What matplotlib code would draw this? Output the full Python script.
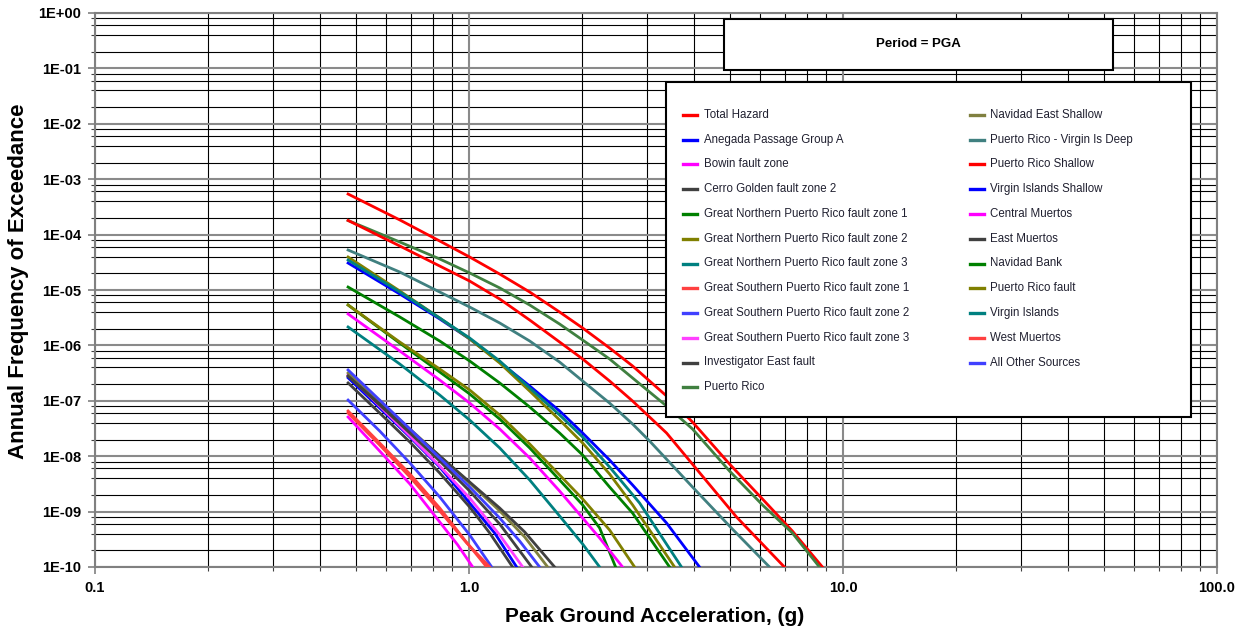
import matplotlib
matplotlib.use("Agg")
import matplotlib.pyplot as plt
from matplotlib.lines import Line2D
from matplotlib.patches import Rectangle
from matplotlib.ticker import FixedLocator, FixedFormatter, NullFormatter

plt.rcParams['font.family'] = ['Liberation Sans', 'DejaVu Sans']

# ---------------------------------------------------------------- data
# Hazard curves: peak ground acceleration (g) vs annual frequency of exceedance
pga_main = [0.475, 0.653, 0.835, 1.004, 1.208, 1.453, 1.747, 2.013, 2.376, 2.738]
pga_low = [0.475, 0.577, 0.695, 0.835, 1.004]

total_hazard_pga = pga_main + [3.375, 3.959, 4.972, 6.09, 7.32, 8.81]
total_hazard_afe = [5.4e-4, 1.84e-4, 7.66e-5, 3.94e-5, 1.94e-5, 9.2e-6, 4.0e-6, 2.06e-6,
                    8.98e-7, 4.25e-7, 1.22e-7, 4.14e-8, 7.23e-9, 1.69e-9, 4.47e-10, 1.0e-10]

puerto_rico_pga = pga_main + [3.375, 3.959, 4.972, 6.09, 7.32, 8.65]
puerto_rico_afe = [1.8e-4, 7.35e-5, 3.63e-5, 2.03e-5, 1.09e-5, 5.36e-6, 2.43e-6, 1.25e-6,
                   5.69e-7, 2.58e-7, 8.05e-8, 3.1e-8, 5.4e-9, 1.32e-9, 4.11e-10, 1.0e-10]

pr_shallow_pga = pga_main + [3.375, 4.058, 5.19, 6.97]
pr_shallow_afe = [1.8e-4, 6.23e-5, 2.71e-5, 1.45e-5, 6.88e-6, 2.87e-6, 1.15e-6, 5.69e-7,
                  2.28e-7, 9.9e-8, 2.62e-8, 5.87e-9, 8.0e-10, 1.0e-10]

pr_vi_deep_pga = pga_main + [3.04, 3.959, 5.06, 6.36]
pr_vi_deep_afe = [5.27e-5, 2.11e-5, 9.2e-6, 4.93e-6, 2.54e-6, 1.2e-6, 5.0e-7, 2.28e-7,
                  9.1e-8, 3.81e-8, 1.88e-8, 2.78e-9, 4.85e-10, 1.0e-10]

vi_shallow_pga = pga_main + [3.375, 4.134]
vi_shallow_afe = [3.07e-5, 8.47e-6, 3.0e-6, 1.31e-6, 5.0e-7, 1.85e-7, 6.55e-8, 2.62e-8,
                  8.54e-9, 3.02e-9, 6.22e-10, 1.0e-10]

pr_fault_pga = pga_main + [3.545]
pr_fault_afe = [3.94e-5, 9.6e-6, 3.12e-6, 1.31e-6, 4.81e-7, 1.5e-7, 4.5e-8, 1.73e-8,
                4.77e-9, 1.32e-9, 1.0e-10]

virgin_islands_pga = pga_main[:9] + [2.858, 3.70]
virgin_islands_afe = [3.48e-5, 9.2e-6, 3.12e-6, 1.36e-6, 5.23e-7, 1.7e-7, 5.54e-8, 2.22e-8,
                      6.38e-9, 1.43e-9, 1.0e-10]

navidad_bank_pga = pga_main + [3.438]
navidad_bank_afe = [1.13e-5, 3.26e-6, 1.2e-6, 5.23e-7, 2.1e-7, 7.73e-8, 2.62e-8, 1.05e-8,
                    2.78e-9, 9.4e-10, 1.0e-10]

gnpr1_pga = pga_main[:8] + [2.235, 2.466]
gnpr1_afe = [5.36e-6, 1.1e-6, 3.31e-7, 1.33e-7, 4.69e-8, 1.41e-8, 3.72e-9, 1.32e-9,
             5.06e-10, 1.0e-10]

gnpr2_pga = pga_main[:9] + [2.772]
gnpr2_afe = [5.36e-6, 1.15e-6, 3.75e-7, 1.57e-7, 5.54e-8, 1.66e-8, 4.58e-9, 1.69e-9,
             4.66e-10, 1.0e-10]

gnpr3_pga = pga_main[:8] + [2.235]
gnpr3_afe = [2.15e-6, 4.61e-7, 1.27e-7, 4.5e-8, 1.41e-8, 3.72e-9, 8.33e-10, 2.6e-10, 1.0e-10]

central_muertos_pga = pga_main[:8] + [2.235, 2.574]
central_muertos_afe = [3.69e-6, 7.92e-7, 2.37e-7, 9.12e-8, 3.1e-8, 9.3e-9, 2.35e-9, 7.66e-10,
                       3.34e-10, 1.0e-10]

all_other_pga = pga_low + [1.208, 1.366, 1.545]
all_other_afe = [3.6e-7, 1.03e-7, 3.1e-8, 9.3e-9, 2.78e-9, 7.66e-10, 2.94e-10, 1.0e-10]

anegada_pga = pga_low + [1.171, 1.341]
anegada_afe = [2.6e-7, 7.41e-8, 2.22e-8, 6.38e-9, 1.43e-9, 4.11e-10, 1.0e-10]

cerro_golden_pga = pga_low + [1.136, 1.308]
cerro_golden_afe = [2.1e-7, 6.02e-8, 1.8e-8, 4.97e-9, 1.21e-9, 4.11e-10, 1.0e-10]

investigator_pga = pga_low + [1.208, 1.471]
investigator_afe = [2.8e-7, 8.4e-8, 2.62e-8, 8.2e-9, 2.35e-9, 5.97e-10, 1.0e-10]

east_muertos_pga = pga_low + [1.208, 1.409, 1.694]
east_muertos_afe = [2.8e-7, 8.75e-8, 2.97e-8, 1.01e-8, 3.42e-9, 1.16e-9, 4.29e-10, 1.0e-10]

navidad_east_pga = pga_low + [1.208, 1.409, 1.623]
navidad_east_afe = [3.18e-7, 9.5e-8, 3.1e-8, 1.01e-8, 3.28e-9, 1.03e-9, 3.48e-10, 1.0e-10]

gspr3_pga = pga_low + [1.208, 1.392]
gspr3_afe = [2.92e-7, 8.05e-8, 2.32e-8, 6.66e-9, 1.76e-9, 3.79e-10, 1.0e-10]

gspr2_pga = pga_low + [1.150]
gspr2_afe = [1.03e-7, 2.85e-8, 7.53e-9, 1.84e-9, 3.79e-10, 1.0e-10]

gspr1_pga = pga_low[:4] + [0.974, 1.115]
gspr1_afe = [6.55e-8, 1.73e-8, 4.77e-9, 1.16e-9, 3.07e-10, 1.0e-10]

west_muertos_pga = pga_low[:4] + [0.986, 1.136]
west_muertos_afe = [6.02e-8, 1.59e-8, 4.21e-9, 1.03e-9, 2.71e-10, 1.0e-10]

bowin_pga = pga_low[:4] + [0.933, 1.023]
bowin_afe = [5.1e-8, 1.24e-8, 3.15e-9, 6.49e-10, 2.5e-10, 1.0e-10]

series_labels = [
    "Total Hazard", "Anegada Passage Group A", "Bowin fault zone",
    "Cerro Golden fault zone 2", "Great Northern Puerto Rico fault zone 1",
    "Great Northern Puerto Rico fault zone 2", "Great Northern Puerto Rico fault zone 3",
    "Great Southern Puerto Rico fault zone 1", "Great Southern Puerto Rico fault zone 2",
    "Great Southern Puerto Rico fault zone 3", "Investigator East fault", "Puerto Rico",
    "Navidad East Shallow", "Puerto Rico - Virgin Is Deep", "Puerto Rico Shallow",
    "Virgin Islands Shallow", "Central Muertos", "East Muertos", "Navidad Bank",
    "Puerto Rico fault", "Virgin Islands", "West Muertos", "All Other Sources",
]
series_colors = [
    "#FF0000", "#0000FF", "#FF00FF", "#404040", "#008000", "#808000", "#008080",
    "#FF4040", "#4040FF", "#FF40FF", "#404040", "#408040",
    "#808040", "#408080", "#FF0000", "#0000FF", "#FF00FF", "#404040", "#008000",
    "#808000", "#008080", "#FF4040", "#4040FF",
]
series_data = [
    (total_hazard_pga, total_hazard_afe), (anegada_pga, anegada_afe),
    (bowin_pga, bowin_afe), (cerro_golden_pga, cerro_golden_afe),
    (gnpr1_pga, gnpr1_afe), (gnpr2_pga, gnpr2_afe), (gnpr3_pga, gnpr3_afe),
    (gspr1_pga, gspr1_afe), (gspr2_pga, gspr2_afe), (gspr3_pga, gspr3_afe),
    (investigator_pga, investigator_afe), (puerto_rico_pga, puerto_rico_afe),
    (navidad_east_pga, navidad_east_afe), (pr_vi_deep_pga, pr_vi_deep_afe),
    (pr_shallow_pga, pr_shallow_afe), (vi_shallow_pga, vi_shallow_afe),
    (central_muertos_pga, central_muertos_afe), (east_muertos_pga, east_muertos_afe),
    (navidad_bank_pga, navidad_bank_afe), (pr_fault_pga, pr_fault_afe),
    (virgin_islands_pga, virgin_islands_afe), (west_muertos_pga, west_muertos_afe),
    (all_other_pga, all_other_afe),
]

x_ticks = [0.1, 1.0, 10.0, 100.0]
x_tick_labels = ["0.1", "1.0", "10.0", "100.0"]
y_ticks = [1e0, 1e-1, 1e-2, 1e-3, 1e-4, 1e-5, 1e-6, 1e-7, 1e-8, 1e-9, 1e-10]
y_tick_labels = ["1E+00", "1E-01", "1E-02", "1E-03", "1E-04", "1E-05",
                 "1E-06", "1E-07", "1E-08", "1E-09", "1E-10"]

# ---------------------------------------------------------------- figure
W, H = 1248, 631
fig = plt.figure(figsize=(W / 100, H / 100), dpi=100)
fig.patch.set_facecolor("white")
L, R, T, B = 95, 1217, 13, 567
ax = fig.add_axes([L / W, 1 - B / H, (R - L) / W, (B - T) / H])
ax.set_xscale("log")
ax.set_yscale("log")
ax.set_xlim(0.1, 100)
ax.set_ylim(1e-10, 1)

# grid: every 1..9 multiple vertically, decades and even multiples horizontally
x_minor = [m * 10.0 ** d for d in (-1, 0, 1) for m in range(2, 10)]
y_minor = [m * 10.0 ** d for d in range(-10, 0) for m in (2, 4, 6, 8)]
for xv in x_minor:
    ax.axvline(xv, color="black", lw=0.8, zorder=1)
for yv in y_minor:
    ax.axhline(yv, color="black", lw=0.8, zorder=1)
for xv in x_ticks:
    ax.axvline(xv, color="#8a8a8a", lw=1.5, zorder=1)
for yv in y_ticks:
    ax.axhline(yv, color="#8a8a8a", lw=1.5, zorder=1)

for (xs, ys), color in zip(series_data, series_colors):
    ax.plot(xs, ys, color=color, lw=2.0, zorder=3, solid_joinstyle="round")

ax.xaxis.set_major_locator(FixedLocator(x_ticks))
ax.xaxis.set_major_formatter(FixedFormatter(x_tick_labels))
ax.xaxis.set_minor_locator(FixedLocator(x_minor))
ax.xaxis.set_minor_formatter(NullFormatter())
ax.yaxis.set_major_locator(FixedLocator(y_ticks))
ax.yaxis.set_major_formatter(FixedFormatter(y_tick_labels))
ax.yaxis.set_minor_locator(FixedLocator(y_minor))
ax.yaxis.set_minor_formatter(NullFormatter())
ax.tick_params(which="major", direction="out", length=5, width=1.2, color="#808080",
               labelsize=10.5, pad=5)
ax.tick_params(which="minor", direction="out", length=3, width=0.8, color="#404040")
for lab in ax.get_xticklabels() + ax.get_yticklabels():
    lab.set_fontweight("bold")
for sp in ax.spines.values():
    sp.set_color("#808080")
    sp.set_linewidth(1.5)


def fpos(px, py):
    return px / W, 1 - py / H


# axis titles
fig.text(*fpos(655, 617), "Peak Ground Acceleration, (g)", ha="center", va="center",
         fontsize=15, fontweight="bold")
fig.text(*fpos(19, 281), "Annual Frequency of Exceedance", ha="center", va="center",
         rotation=90, fontsize=16, fontweight="bold")

# period box
x0, y0 = fpos(724, 70)
fig.add_artist(Rectangle((x0, y0), (1113 - 724) / W, (70 - 19) / H,
                         transform=fig.transFigure, facecolor="white",
                         edgecolor="black", lw=1.5, zorder=5))
fig.text(*fpos(918, 44), "Period = PGA", ha="center", va="center",
         fontsize=9.5, fontweight="bold", zorder=6)

# legend box
x0, y0 = fpos(666, 417)
fig.add_artist(Rectangle((x0, y0), (1191 - 666) / W, (417 - 82) / H,
                         transform=fig.transFigure, facecolor="white",
                         edgecolor="black", lw=1.5, zorder=5))
rows_per_col = 12
for i, (label, color) in enumerate(zip(series_labels, series_colors)):
    col, row = divmod(i, rows_per_col)
    hx0 = 683 if col == 0 else 970
    tx = 704 if col == 0 else 990
    ry = 115 + row * 24.75
    fig.add_artist(Line2D([hx0 / W, (hx0 + 14) / W], [1 - ry / H, 1 - ry / H],
                          transform=fig.transFigure, color=color, lw=2.4, zorder=6))
    fig.text(tx / W, 1 - ry / H, label, ha="left", va="center", fontsize=8.3,
             color="#202030", zorder=6)

fig.savefig("out.png", dpi=100)
